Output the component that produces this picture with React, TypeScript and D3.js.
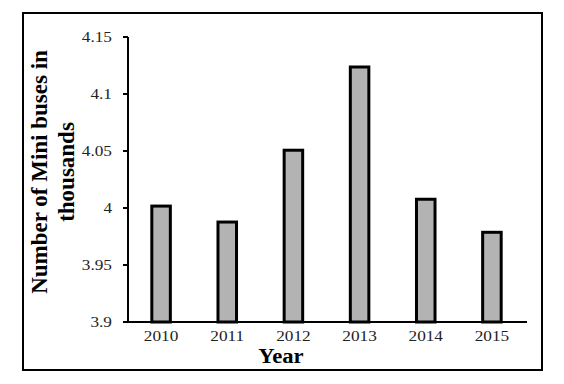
import React from 'react';
import * as d3 from 'd3';

const years = ['2010', '2011', '2012', '2013', '2014', '2015'];
const buses = [4.003, 3.989, 4.052, 4.125, 4.009, 3.98];
const yTicks = [3.9, 3.95, 4, 4.05, 4.1, 4.15];

const W = 564;
const H = 384;
const left = 128;
const right = 525;
const top = 37;
const bottom = 322;

// the source picture is a little stretched sideways, so text gets scaleX too
const stretch = 1.15;

export default function App() {
    const x = d3.scaleBand().domain(years).range([left, right]).paddingInner(0.72).paddingOuter(0.36);
    const y = d3.scaleLinear().domain([3.9, 4.15]).range([bottom, top]);
    const font = '"Liberation Serif", "Times New Roman", serif';

    return (
        <svg width={W} height={H} style={{ position: 'absolute', left: 0, top: 0, background: '#fff' }}>
            <rect x={23} y={13} width={519} height={357} fill="none" stroke="#000" strokeWidth={2} />

            {years.map((yr, i) => (
                <rect
                    key={yr}
                    x={x(yr)}
                    y={y(buses[i]) + 1.5}
                    width={x.bandwidth()}
                    height={bottom - y(buses[i]) - 1.5}
                    fill="#b3b3b3"
                    stroke="#000"
                    strokeWidth={3}
                />
            ))}

            <line x1={left} x2={left} y1={top} y2={bottom} stroke="#000" strokeWidth={2} />
            <line x1={left} x2={527} y1={bottom} y2={bottom} stroke="#000" strokeWidth={2} />

            {yTicks.map((t) => (
                <g key={t}>
                    <line x1={left - 5} x2={left} y1={y(t)} y2={y(t)} stroke="#000" strokeWidth={2} />
                    <text
                        transform={`translate(${left - 16},${y(t) + 5}) scale(${stretch},1)`}
                        textAnchor="end"
                        fontFamily={font}
                        fontSize={15}
                        fill="#222"
                    >
                        {t}
                    </text>
                </g>
            ))}

            {years.map((yr) => (
                <text
                    key={yr}
                    transform={`translate(${x(yr) + x.bandwidth() / 2},341) scale(${stretch},1)`}
                    textAnchor="middle"
                    fontFamily={font}
                    fontSize={15}
                    fill="#222"
                >
                    {yr}
                </text>
            ))}

            <text
                transform="translate(281,363) scale(1.08,1)"
                textAnchor="middle"
                fontFamily={font}
                fontSize={21}
                fontWeight="bold"
            >
                Year
            </text>

            <g transform="translate(47,172) rotate(-90)">
                <text x={0} y={0} textAnchor="middle" fontFamily={font} fontSize={23} fontWeight="bold">
                    Number of Mini buses in
                </text>
                <text x={0} y={27} textAnchor="middle" fontFamily={font} fontSize={23} fontWeight="bold">
                    thousands
                </text>
            </g>
        </svg>
    );
}
